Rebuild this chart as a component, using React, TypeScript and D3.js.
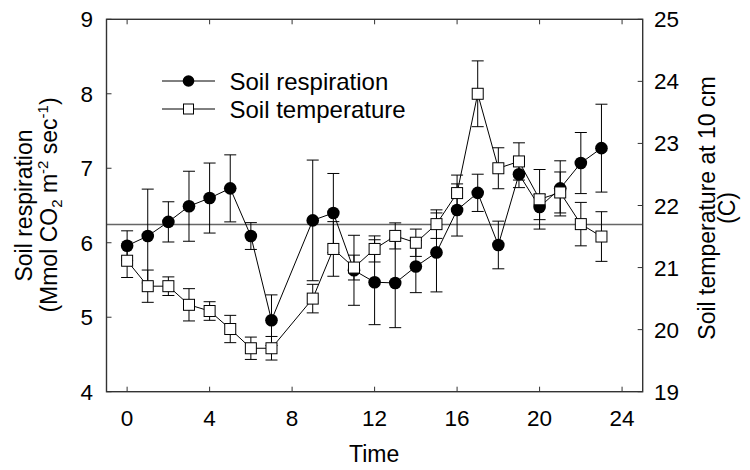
import React from "react";
import * as d3 from "d3";

const hours = [0, 1, 2, 3, 4, 5, 6, 7, 9, 10, 11, 12, 13, 14, 15, 16, 17, 18, 19, 20, 21, 22, 23];
const respiration = [5.96, 6.09, 6.28, 6.49, 6.6, 6.73, 6.09, 4.96, 6.3, 6.4, 5.63, 5.47, 5.46, 5.68, 5.87, 6.44, 6.67, 5.97, 6.92, 6.48, 6.73, 7.07, 7.27];
const respirationErr = [0.2, 0.63, 0.27, 0.47, 0.47, 0.45, 0.18, 0.34, 0.81, 0.53, 0.47, 0.57, 0.6, 0.35, 0.53, 0.35, 0.25, 0.32, 0.18, 0.17, 0.37, 0.41, 0.59];
const temperature = [21.11, 20.7, 20.7, 20.4, 20.3, 20.01, 19.7, 19.7, 20.5, 21.3, 21.0, 21.3, 21.51, 21.4, 21.7, 22.2, 23.8, 22.6, 22.71, 22.1, 22.21, 21.7, 21.5];
const temperatureErr = [0.27, 0.26, 0.15, 0.26, 0.15, 0.22, 0.18, 0.19, 0.23, 0.44, 0.2, 0.21, 0.21, 0.22, 0.23, 0.29, 0.53, 0.33, 0.3, 0.48, 0.33, 0.35, 0.4];
const referenceRespiration = 6.245;
const xTicks = [0, 4, 8, 12, 16, 20, 24];
const yLeftTicks = [4, 5, 6, 7, 8, 9];
const yRightTicks = [19, 20, 21, 22, 23, 24, 25];
const legendLabels = ["Soil respiration", "Soil temperature"];

const FONT = "'Liberation Sans', Arial, Helvetica, sans-serif";

export default function App() {
  const left = 106.5, right = 642.7, top = 19.3, bottom = 391.7;
  const x = d3.scaleLinear().domain([-1, 25]).range([left, right]);
  const yL = d3.scaleLinear().domain([4, 9]).range([bottom, top]);
  const yR = d3.scaleLinear().domain([19, 25]).range([bottom, top]);

  const respPts = hours.map((h, i) => ({ h, v: respiration[i], e: respirationErr[i] }));
  const tempPts = hours.map((h, i) => ({ h, v: temperature[i], e: temperatureErr[i] }));

  const lineL = d3.line<any>().x((d) => x(d.h)).y((d) => yL(d.v));
  const lineR = d3.line<any>().x((d) => x(d.h)).y((d) => yR(d.v));

  const cap = 6;
  const tickLen = 5;
  const frameColor = "#333";
  const r = 6.3;
  const sq = 11;

  const errBars = (pts: any[], y: any, key: string) =>
    pts.map((d, i) => {
      const cx = x(d.h);
      const y1 = y(d.v + d.e);
      const y2 = y(d.v - d.e);
      return (
        <g key={key + i} stroke="#000" strokeWidth={1}>
          <line x1={cx} x2={cx} y1={y1} y2={y2} />
          <line x1={cx - cap} x2={cx + cap} y1={y1} y2={y1} />
          <line x1={cx - cap} x2={cx + cap} y1={y2} y2={y2} />
        </g>
      );
    });

  const legX = 188.5;
  const legY = [81, 109];

  return (
    <svg width={750} height={470} style={{ position: "absolute", left: 0, top: 0, background: "#fff" }} fontFamily={FONT}>
      <rect x={0} y={0} width={750} height={470} fill="#fff" />
      {/* reference line */}
      <line x1={left} x2={right} y1={yL(referenceRespiration)} y2={yL(referenceRespiration)} stroke="#666" strokeWidth={1.6} />

      {/* respiration series */}
      {errBars(respPts, yL, "re")}
      <path d={lineL(respPts) || ""} fill="none" stroke="#000" strokeWidth={1} />
      {respPts.map((d, i) => (
        <circle key={"rc" + i} cx={x(d.h)} cy={yL(d.v)} r={r} fill="#000" />
      ))}

      {/* temperature series */}
      {errBars(tempPts, yR, "te")}
      <path d={lineR(tempPts) || ""} fill="none" stroke="#000" strokeWidth={1} />
      {tempPts.map((d, i) => (
        <rect key={"ts" + i} x={x(d.h) - sq / 2} y={yR(d.v) - sq / 2} width={sq} height={sq} fill="#fff" stroke="#000" strokeWidth={1} />
      ))}

      {/* frame */}
      <rect x={left} y={top} width={right - left} height={bottom - top} fill="none" stroke={frameColor} strokeWidth={1.4} />

      {/* x ticks */}
      {xTicks.map((t) => (
        <g key={"xt" + t}>
          <line x1={x(t)} x2={x(t)} y1={bottom} y2={bottom - tickLen} stroke={frameColor} strokeWidth={1} />
          <line x1={x(t)} x2={x(t)} y1={top} y2={top + tickLen} stroke={frameColor} strokeWidth={1} />
          <text x={x(t)} y={426} textAnchor="middle" fontSize={22.5} fill="#000">{t}</text>
        </g>
      ))}
      {/* left ticks */}
      {yLeftTicks.map((t) => (
        <g key={"yl" + t}>
          <line x1={left} x2={left + tickLen} y1={yL(t)} y2={yL(t)} stroke={frameColor} strokeWidth={1} />
          <text x={93} y={yL(t) + 8} textAnchor="end" fontSize={22.5} fill="#000">{t}</text>
        </g>
      ))}
      {/* right ticks */}
      {yRightTicks.map((t) => (
        <g key={"yr" + t}>
          <line x1={right} x2={right - tickLen} y1={yR(t)} y2={yR(t)} stroke={frameColor} strokeWidth={1} />
          <text x={654} y={yR(t) + 8} textAnchor="start" fontSize={22.5} fill="#000">{t}</text>
        </g>
      ))}

      {/* axis titles */}
      <text x={(left + right) / 2 - 0.5} y={462} textAnchor="middle" fontSize={23} fill="#000">Time</text>
      <text transform="translate(31.5,205.5) rotate(-90)" textAnchor="middle" fontSize={23} fill="#000">Soil respiration</text>
      <text transform="translate(56.5,205) rotate(-90)" textAnchor="middle" fontSize={23} fill="#000">
        (Mmol CO<tspan fontSize={15} dy={5}>2</tspan>
        <tspan dy={-5}> m</tspan>
        <tspan fontSize={15} dy={-9}>-2</tspan>
        <tspan dy={9}> sec</tspan>
        <tspan fontSize={15} dy={-9}>-1</tspan>
        <tspan dy={9}>)</tspan>
      </text>
      <text transform="translate(715,208) rotate(-90)" textAnchor="middle" fontSize={23} fill="#000">Soil temperature at 10 cm</text>
      <text transform="translate(735,208) rotate(-90)" textAnchor="middle" fontSize={23} fill="#000">(C)</text>

      {/* legend */}
      <line x1={162} x2={215} y1={legY[0]} y2={legY[0]} stroke="#000" strokeWidth={1} />
      <circle cx={legX} cy={legY[0]} r={5.8} fill="#000" />
      <text x={229.5} y={legY[0] + 8.5} fontSize={24} fill="#000">{legendLabels[0]}</text>
      <line x1={162} x2={215} y1={legY[1]} y2={legY[1]} stroke="#000" strokeWidth={1} />
      <rect x={legX - 5} y={legY[1] - 5} width={10} height={10} fill="#fff" stroke="#000" strokeWidth={1} />
      <text x={229.5} y={legY[1] + 8.5} fontSize={24} fill="#000">{legendLabels[1]}</text>
    </svg>
  );
}
